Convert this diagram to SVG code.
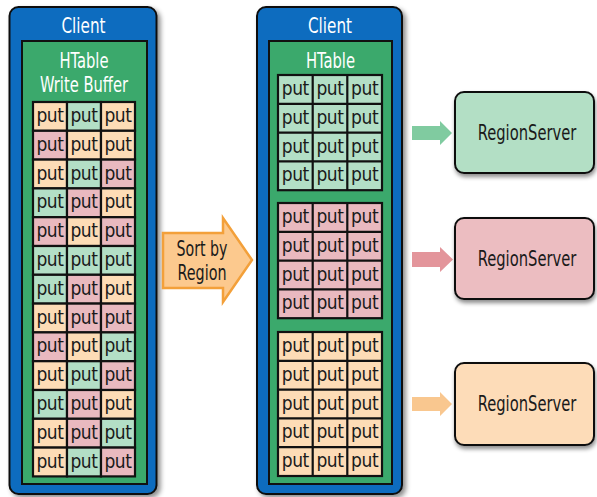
<svg xmlns="http://www.w3.org/2000/svg" width="597" height="497" viewBox="0 0 597 497">
<defs>
<filter id="sh" x="-10%" y="-10%" width="130%" height="130%">
<feDropShadow dx="3" dy="3" stdDeviation="2.5" flood-color="#000" flood-opacity="0.45"/>
</filter>
<filter id="sh2" x="-5%" y="-10%" width="110%" height="130%">
<feDropShadow dx="1" dy="3" stdDeviation="2" flood-color="#000" flood-opacity="0.45"/>
</filter>
<style>
text{font-family:"Liberation Sans Narrow","DejaVu Sans Condensed","Liberation Sans",sans-serif;text-anchor:middle}
.t{fill:#fff;font-size:22px}
.h{fill:#fff;font-size:21px}
.p{fill:#1a1a1a;font-size:19px;letter-spacing:-0.4px}
.s{fill:#1a1a1a;font-size:21px}
.rs{fill:#1a1a1a;font-size:21px}
.blue{fill:#0b6cbf;stroke:#111;stroke-width:2}
.grn{fill:#3ba96c;stroke:#111;stroke-width:2}
.o{fill:#fddcb6;stroke:#111;stroke-width:2.2}
.g{fill:#b3dfc6;stroke:#111;stroke-width:2.2}
.r{fill:#e9b9bf;stroke:#111;stroke-width:2.2}
.gl{fill:none;stroke:#111;stroke-width:2.2}
.box{stroke:#111;stroke-width:2}
</style>
</defs>
<rect width="597" height="497" fill="#fff"/>

<g id="client-left">
<rect class="blue" x="9.5" y="7" width="147" height="487" rx="9" filter="url(#sh)"/>
<text class="t" x="83.5" y="33" textLength="44" lengthAdjust="spacingAndGlyphs">Client</text>
<rect class="grn" x="22" y="41" width="125" height="443"/>
<text class="h" x="84" y="68" textLength="49" lengthAdjust="spacingAndGlyphs">HTable</text>
<text class="h" x="84" y="92" textLength="88" lengthAdjust="spacingAndGlyphs">Write Buffer</text>
<g id="write-buffer">
<rect class="o" x="33" y="102" width="34" height="28.8"/><rect class="g" x="67" y="102" width="34" height="28.8"/><rect class="o" x="101" y="102" width="34" height="28.8"/>
<rect class="r" x="33" y="130.8" width="34" height="28.8"/><rect class="o" x="67" y="130.8" width="34" height="28.8"/><rect class="o" x="101" y="130.8" width="34" height="28.8"/>
<rect class="o" x="33" y="159.6" width="34" height="28.8"/><rect class="g" x="67" y="159.6" width="34" height="28.8"/><rect class="r" x="101" y="159.6" width="34" height="28.8"/>
<rect class="g" x="33" y="188.4" width="34" height="28.8"/><rect class="r" x="67" y="188.4" width="34" height="28.8"/><rect class="o" x="101" y="188.4" width="34" height="28.8"/>
<rect class="r" x="33" y="217.2" width="34" height="28.8"/><rect class="o" x="67" y="217.2" width="34" height="28.8"/><rect class="r" x="101" y="217.2" width="34" height="28.8"/>
<rect class="g" x="33" y="246" width="34" height="28.8"/><rect class="g" x="67" y="246" width="34" height="28.8"/><rect class="g" x="101" y="246" width="34" height="28.8"/>
<rect class="g" x="33" y="274.8" width="34" height="28.8"/><rect class="r" x="67" y="274.8" width="34" height="28.8"/><rect class="o" x="101" y="274.8" width="34" height="28.8"/>
<rect class="o" x="33" y="303.6" width="34" height="28.8"/><rect class="r" x="67" y="303.6" width="34" height="28.8"/><rect class="r" x="101" y="303.6" width="34" height="28.8"/>
<rect class="r" x="33" y="332.4" width="34" height="28.8"/><rect class="o" x="67" y="332.4" width="34" height="28.8"/><rect class="g" x="101" y="332.4" width="34" height="28.8"/>
<rect class="o" x="33" y="361.2" width="34" height="28.8"/><rect class="g" x="67" y="361.2" width="34" height="28.8"/><rect class="r" x="101" y="361.2" width="34" height="28.8"/>
<rect class="g" x="33" y="390" width="34" height="28.8"/><rect class="r" x="67" y="390" width="34" height="28.8"/><rect class="o" x="101" y="390" width="34" height="28.8"/>
<rect class="o" x="33" y="418.8" width="34" height="28.8"/><rect class="r" x="67" y="418.8" width="34" height="28.8"/><rect class="g" x="101" y="418.8" width="34" height="28.8"/>
<rect class="o" x="33" y="447.6" width="34" height="28.8"/><rect class="g" x="67" y="447.6" width="34" height="28.8"/><rect class="r" x="101" y="447.6" width="34" height="28.8"/>
<text class="p" x="50" y="122">put</text><text class="p" x="84" y="122">put</text><text class="p" x="118" y="122">put</text>
<text class="p" x="50" y="150.8">put</text><text class="p" x="84" y="150.8">put</text><text class="p" x="118" y="150.8">put</text>
<text class="p" x="50" y="179.6">put</text><text class="p" x="84" y="179.6">put</text><text class="p" x="118" y="179.6">put</text>
<text class="p" x="50" y="208.4">put</text><text class="p" x="84" y="208.4">put</text><text class="p" x="118" y="208.4">put</text>
<text class="p" x="50" y="237.2">put</text><text class="p" x="84" y="237.2">put</text><text class="p" x="118" y="237.2">put</text>
<text class="p" x="50" y="266">put</text><text class="p" x="84" y="266">put</text><text class="p" x="118" y="266">put</text>
<text class="p" x="50" y="294.8">put</text><text class="p" x="84" y="294.8">put</text><text class="p" x="118" y="294.8">put</text>
<text class="p" x="50" y="323.6">put</text><text class="p" x="84" y="323.6">put</text><text class="p" x="118" y="323.6">put</text>
<text class="p" x="50" y="352.4">put</text><text class="p" x="84" y="352.4">put</text><text class="p" x="118" y="352.4">put</text>
<text class="p" x="50" y="381.2">put</text><text class="p" x="84" y="381.2">put</text><text class="p" x="118" y="381.2">put</text>
<text class="p" x="50" y="410">put</text><text class="p" x="84" y="410">put</text><text class="p" x="118" y="410">put</text>
<text class="p" x="50" y="438.8">put</text><text class="p" x="84" y="438.8">put</text><text class="p" x="118" y="438.8">put</text>
<text class="p" x="50" y="467.6">put</text><text class="p" x="84" y="467.6">put</text><text class="p" x="118" y="467.6">put</text>
</g>
</g>

<g id="sort-by-region">
<path d="M163,233 H223 V218 L252,260 L223,302 V288 H163 Z" fill="#fcc98e" stroke="#f3a03a" stroke-width="2.5"/>
<text class="s" x="202" y="256" textLength="51" lengthAdjust="spacingAndGlyphs">Sort by</text>
<text class="s" x="202" y="280" textLength="49" lengthAdjust="spacingAndGlyphs">Region</text>
</g>

<g id="client-right">
<rect class="blue" x="257" y="7" width="145" height="487" rx="9" filter="url(#sh)"/>
<text class="t" x="330" y="33" textLength="44" lengthAdjust="spacingAndGlyphs">Client</text>
<rect class="grn" x="269" y="41" width="123" height="443"/>
<text class="h" x="330.5" y="68" textLength="49" lengthAdjust="spacingAndGlyphs">HTable</text>
<g id="region-1-puts">
<rect class="g" x="278" y="75" width="104" height="115.2"/>
<path class="gl" d="M312.7,75V190.2M347.3,75V190.2M278,103.8H382M278,132.6H382M278,161.4H382"/>
<text class="p" x="295.3" y="95">put</text><text class="p" x="330" y="95">put</text><text class="p" x="364.7" y="95">put</text>
<text class="p" x="295.3" y="123.8">put</text><text class="p" x="330" y="123.8">put</text><text class="p" x="364.7" y="123.8">put</text>
<text class="p" x="295.3" y="152.6">put</text><text class="p" x="330" y="152.6">put</text><text class="p" x="364.7" y="152.6">put</text>
<text class="p" x="295.3" y="181.4">put</text><text class="p" x="330" y="181.4">put</text><text class="p" x="364.7" y="181.4">put</text>
</g>
<g id="region-2-puts">
<rect class="r" x="278" y="203" width="104" height="115.2"/>
<path class="gl" d="M312.7,203V318.2M347.3,203V318.2M278,231.8H382M278,260.6H382M278,289.4H382"/>
<text class="p" x="295.3" y="223">put</text><text class="p" x="330" y="223">put</text><text class="p" x="364.7" y="223">put</text>
<text class="p" x="295.3" y="251.8">put</text><text class="p" x="330" y="251.8">put</text><text class="p" x="364.7" y="251.8">put</text>
<text class="p" x="295.3" y="280.6">put</text><text class="p" x="330" y="280.6">put</text><text class="p" x="364.7" y="280.6">put</text>
<text class="p" x="295.3" y="309.4">put</text><text class="p" x="330" y="309.4">put</text><text class="p" x="364.7" y="309.4">put</text>
</g>
<g id="region-3-puts">
<rect class="o" x="278" y="332" width="104" height="144"/>
<path class="gl" d="M312.7,332V476M347.3,332V476M278,360.8H382M278,389.6H382M278,418.4H382M278,447.2H382"/>
<text class="p" x="295.3" y="352">put</text><text class="p" x="330" y="352">put</text><text class="p" x="364.7" y="352">put</text>
<text class="p" x="295.3" y="380.8">put</text><text class="p" x="330" y="380.8">put</text><text class="p" x="364.7" y="380.8">put</text>
<text class="p" x="295.3" y="409.6">put</text><text class="p" x="330" y="409.6">put</text><text class="p" x="364.7" y="409.6">put</text>
<text class="p" x="295.3" y="438.4">put</text><text class="p" x="330" y="438.4">put</text><text class="p" x="364.7" y="438.4">put</text>
<text class="p" x="295.3" y="467.2">put</text><text class="p" x="330" y="467.2">put</text><text class="p" x="364.7" y="467.2">put</text>
</g>
</g>

<g id="connectors">
<path d="M412,126 H440 V121 L452,133 L440,145 V140 H412 Z" fill="#80cba0"/>
<path d="M412,252 H440 V247 L453,259.5 L440,272 V267 H412 Z" fill="#e3959b"/>
<path d="M412,397 H440 V392 L452,404 L440,416 V411 H412 Z" fill="#f9c78f"/>
</g>

<g id="regionserver-1">
<rect class="box" x="455" y="92" width="139" height="81" rx="9" fill="#b3dfc5" filter="url(#sh2)"/>
<text class="rs" transform="matrix(0.78 0 0 1 527 140)">RegionServer</text>
</g>
<g id="regionserver-2">
<rect class="box" x="455" y="218" width="139" height="81" rx="9" fill="#ecbdc1" filter="url(#sh2)"/>
<text class="rs" transform="matrix(0.78 0 0 1 527 266)">RegionServer</text>
</g>
<g id="regionserver-3">
<rect class="box" x="455" y="363" width="139" height="82" rx="9" fill="#fddcb8" filter="url(#sh2)"/>
<text class="rs" transform="matrix(0.78 0 0 1 527 411)">RegionServer</text>
</g>
</svg>
